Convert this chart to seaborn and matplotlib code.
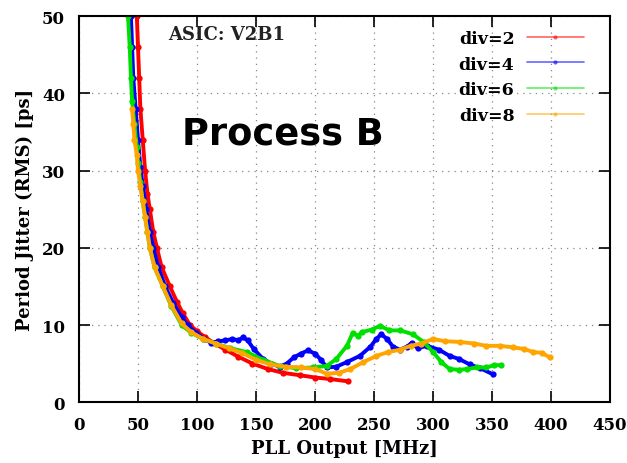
import matplotlib
matplotlib.use("Agg")
import matplotlib.pyplot as plt
from matplotlib.lines import Line2D
import numpy as np
import pandas as pd
import seaborn as sns

# div=2 (red)
x_div2 = [49, 50, 51, 52, 54, 56, 58, 60, 63, 66, 70, 77, 83, 88, 94, 100, 107, 114,
          124, 135, 147, 160, 173, 187, 200, 213, 228]
y_div2 = [50, 46, 42, 38, 34, 30, 27, 25, 22, 20, 17.5, 15, 13, 11.5, 10, 9.2, 8.4, 7.7,
          6.8, 5.9, 5.0, 4.3, 3.8, 3.5, 3.2, 3.0, 2.7]

# div=4 (blue)
x_div4 = [44, 45, 46, 48, 50, 52, 54, 57, 60, 63, 67, 73, 80, 87, 92, 99, 106, 112,
          118, 124, 130, 135, 139, 143, 148, 156, 163, 170, 176, 182, 188, 194, 200,
          205, 210, 218, 227, 238, 247, 252, 256, 261, 266, 272, 278, 282, 287, 295,
          305, 314, 322, 331, 340, 351]
y_div4 = [50, 46, 42, 38, 34, 30.5, 28, 25, 22, 20, 17.5, 15, 12.8, 11, 10, 9.0, 8.2, 7.7,
          7.9, 8.0, 8.2, 8.0, 8.4, 8.0, 6.9, 5.6, 5.0, 4.6, 5.0, 5.8, 6.3, 6.7, 6.3,
          5.5, 4.5, 4.6, 5.2, 6.0, 7.2, 8.2, 8.8, 8.2, 7.2, 6.8, 7.2, 7.7, 7.0, 7.3,
          6.8, 6.0, 5.6, 4.9, 4.4, 3.6]

# div=6 (green)
x_div6 = [41.5, 43, 44, 45, 47, 49, 50, 52, 54, 56, 58, 60, 64, 71, 78, 87, 95, 105,
          116, 128, 142, 156, 170, 184, 198, 210, 218, 227, 232, 236, 240, 248, 255,
          263, 272, 283, 292, 300, 307, 314, 322, 329, 337, 345, 352, 358]
y_div6 = [50, 46, 42, 39, 36, 33, 31, 28.5, 26, 24, 22, 20, 17.5, 15, 12.5, 10, 9.0, 8.2,
          7.6, 7.0, 6.5, 5.5, 4.7, 4.4, 4.5, 4.7, 5.6, 7.3, 9.0, 8.6, 9.1, 9.4, 9.9,
          9.3, 9.3, 8.8, 7.8, 6.5, 5.2, 4.3, 4.2, 4.3, 4.5, 4.5, 4.8, 4.8]

# div=8 (orange)
x_div8 = [45, 46, 47, 49, 50, 52, 54, 56, 58, 60, 64, 71, 78, 87, 95, 105, 116, 127,
          138, 150, 162, 175, 188, 200, 210, 220, 230, 241, 252, 262, 272, 281, 290,
          300, 310, 323, 335, 345, 357, 368, 377, 385, 392, 399]
y_div8 = [38, 36, 34, 32, 30, 28, 26, 24, 22, 20, 17.5, 15, 12.6, 10.2, 9.1, 8.2, 7.6,
          7.0, 6.4, 5.5, 4.9, 4.6, 4.5, 4.3, 3.7, 3.8, 4.3, 5.2, 6.0, 6.5, 6.8, 7.3, 7.6,
          8.2, 7.9, 7.8, 7.6, 7.3, 7.3, 7.1, 6.9, 6.5, 6.4, 5.8]

labels = ["div=2", "div=4", "div=6", "div=8"]
colors = ["#ff0000", "#0000ff", "#00e000", "#ffa500"]

frames = []
for lab, xs, ys in zip(labels, [x_div2, x_div4, x_div6, x_div8],
                       [y_div2, y_div4, y_div6, y_div8]):
    frames.append(pd.DataFrame({"freq": xs, "jitter": ys, "div": lab}))
df = pd.concat(frames, ignore_index=True)

sns.set_style("ticks")
plt.rcParams["font.family"] = ["DejaVu Serif"]
plt.rcParams["font.weight"] = "bold"
for key in ["text.color", "axes.labelcolor", "xtick.color", "ytick.color",
            "axes.edgecolor"]:
    plt.rcParams[key] = "black"

fig = plt.figure(figsize=(6.27, 4.64), dpi=100)
ax = fig.add_axes([0.126, 0.131, 0.847, 0.832])

sns.lineplot(data=df, x="freq", y="jitter", hue="div", palette=colors,
             sort=False, estimator=None, linewidth=2.8, marker="o",
             markersize=4.5, markeredgewidth=0, legend=False, ax=ax)

ax.set_xlim(0, 450)
ax.set_ylim(0, 50)
ax.set_xticks(np.arange(0, 451, 50))
ax.set_yticks(np.arange(0, 51, 10))
ax.grid(True, linestyle=(0, (1, 4)), color="#888888", linewidth=0.9)
ax.tick_params(direction="in", top=True, right=True, length=8, width=1.2,
               labelsize=12, pad=10)
for lbl in ax.get_xticklabels() + ax.get_yticklabels():
    lbl.set_fontweight("bold")
for sp in ax.spines.values():
    sp.set_linewidth(1.5)

ax.set_xlabel("PLL Output [MHz]", fontsize=13, fontweight="bold", labelpad=4)
ax.set_ylabel("Period Jitter (RMS) [ps]", fontsize=13, fontweight="bold", labelpad=6)

ax.text(0.168, 0.955, "ASIC: V2B1", transform=ax.transAxes, fontsize=13,
        fontweight="bold", color="#222222", va="center")
ax.text(0.384, 0.697, "Process B", transform=ax.transAxes, fontsize=26.5,
        fontweight="bold", family=["DejaVu Sans"], ha="center", va="center",
        color="black")

handles = [Line2D([0], [0], color=c, lw=1.2, alpha=0.6, marker="o", markersize=3,
                  markerfacecolor=c, markeredgewidth=0) for c in colors]
leg = ax.legend(handles, labels, loc="upper right", frameon=False, markerfirst=False,
                fontsize=12.5, handlelength=3.3, labelspacing=0.5, handletextpad=0.7,
                bbox_to_anchor=(0.98, 1.005))
for t in leg.get_texts():
    t.set_fontweight("bold")

fig.savefig("out.png", dpi=100)
